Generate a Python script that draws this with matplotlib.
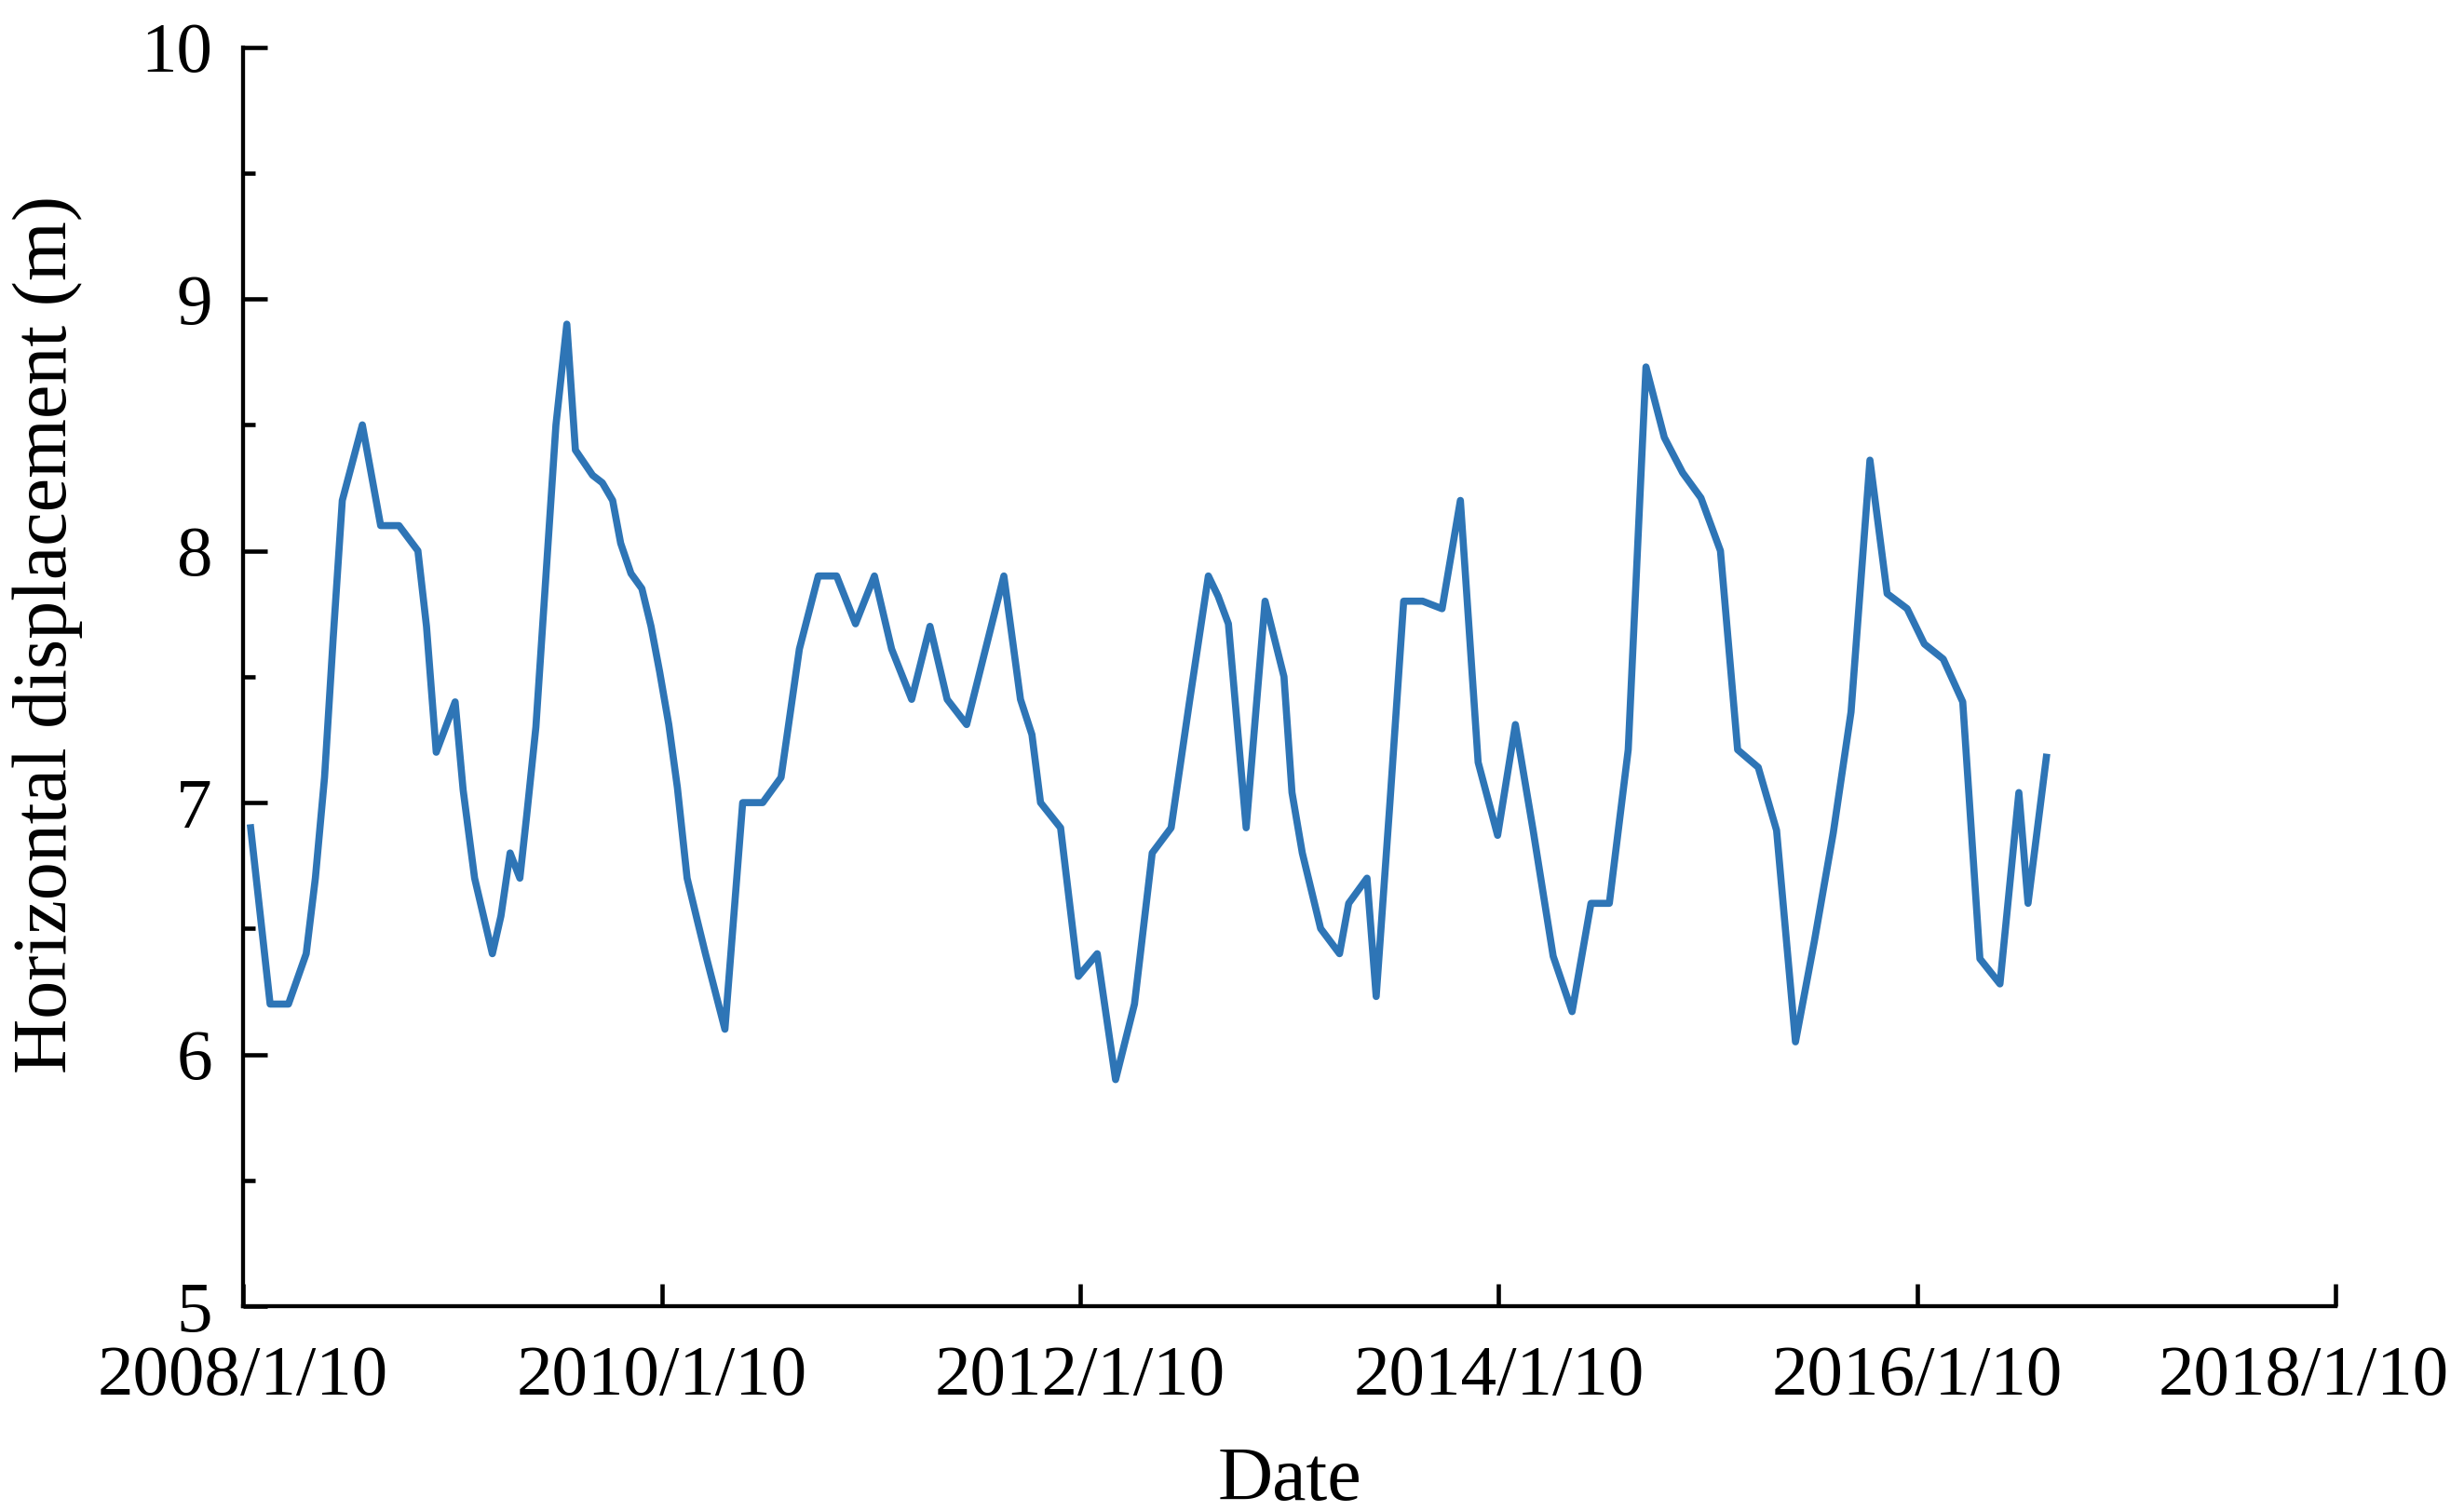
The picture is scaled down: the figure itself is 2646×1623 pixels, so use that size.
import numpy as np
import pandas as pd
import matplotlib
matplotlib.use("Agg")
import matplotlib.pyplot as plt
import matplotlib.transforms as mtransforms
from matplotlib.ticker import MultipleLocator

plt.rcParams['font.family'] = ['Liberation Serif', 'DejaVu Serif']

fechas = ["2008-01-23", "2008-02-26", "2008-03-29", "2008-04-29", "2008-05-15", "2008-05-31",
          "2008-06-15", "2008-07-01", "2008-08-05", "2008-09-06", "2008-10-08", "2008-11-10",
          "2008-11-25", "2008-12-12", "2009-01-14", "2009-01-28", "2009-02-17", "2009-03-20",
          "2009-04-04", "2009-04-20", "2009-05-07", "2009-05-19", "2009-06-04", "2009-07-09",
          "2009-07-28", "2009-08-12", "2009-09-11", "2009-09-28", "2009-10-16", "2009-10-30",
          "2009-11-17", "2009-12-06", "2009-12-22", "2010-01-06", "2010-01-22", "2010-02-06",
          "2010-02-23", "2010-03-13", "2010-03-27", "2010-04-30", "2010-05-31", "2010-07-05",
          "2010-08-06", "2010-09-07", "2010-10-10", "2010-11-11", "2010-12-14", "2011-01-16",
          "2011-02-15", "2011-03-22", "2011-04-23", "2011-05-23", "2011-06-26", "2011-07-29",
          "2011-08-30", "2011-09-28", "2011-10-18", "2011-11-02", "2011-12-07", "2012-01-07",
          "2012-02-09", "2012-03-12", "2012-04-14", "2012-05-15", "2012-06-17", "2012-07-19",
          "2012-08-21", "2012-09-07", "2012-09-25", "2012-10-26", "2012-11-28", "2012-12-31",
          "2013-01-14", "2013-02-01", "2013-03-05", "2013-04-07", "2013-04-23", "2013-05-25",
          "2013-06-10", "2013-07-04", "2013-07-28", "2013-08-30", "2013-10-03", "2013-11-04",
          "2013-12-05", "2014-01-08", "2014-02-08", "2014-03-11", "2014-04-15", "2014-05-18",
          "2014-06-20", "2014-07-22", "2014-08-24", "2014-09-24", "2014-10-26", "2014-11-27",
          "2014-12-29", "2015-02-01", "2015-03-03", "2015-04-08", "2015-05-10", "2015-06-12",
          "2015-07-15", "2015-08-17", "2015-09-17", "2015-10-20", "2015-11-19", "2015-12-24",
          "2016-01-23", "2016-02-25", "2016-03-30", "2016-04-29", "2016-06-03", "2016-07-06",
          "2016-07-22", "2016-08-23"]

deslocamento = [6.90, 6.20, 6.20, 6.40, 6.70, 7.10,
                7.65, 8.20, 8.50, 8.10, 8.10, 8.00,
                7.70, 7.20, 7.40, 7.05, 6.70, 6.40,
                6.55, 6.80, 6.70, 6.95, 7.30, 8.50,
                8.90, 8.40, 8.30, 8.27, 8.20, 8.03,
                7.91, 7.85, 7.70, 7.52, 7.31, 7.06,
                6.70, 6.53, 6.40, 6.10, 7.00, 7.00,
                7.10, 7.61, 7.90, 7.90, 7.71, 7.90,
                7.61, 7.41, 7.70, 7.41, 7.31, 7.61,
                7.90, 7.41, 7.27, 7.00, 6.90, 6.31,
                6.40, 5.90, 6.20, 6.80, 6.90, 7.40,
                7.90, 7.82, 7.71, 6.90, 7.80, 7.50,
                7.04, 6.80, 6.50, 6.40, 6.60, 6.70,
                6.23, 7.00, 7.80, 7.80, 7.77, 8.20,
                7.16, 6.87, 7.31, 6.89, 6.39, 6.17,
                6.60, 6.60, 7.21, 8.73, 8.45, 8.31,
                8.21, 8.00, 7.21, 7.14, 6.89, 6.05,
                6.45, 6.88, 7.36, 8.36, 7.83, 7.77,
                7.63, 7.57, 7.40, 6.38, 6.28, 7.04,
                6.60, 7.18]

ticks_x = ["2008-01-10", "2010-01-10", "2012-01-10", "2014-01-10", "2016-01-10", "2018-01-10"]
rotulos_x = ["2008/1/10", "2010/1/10", "2012/1/10", "2014/1/10", "2016/1/10", "2018/1/10"]

tempo = pd.to_datetime(fechas)
tt = pd.to_datetime(ticks_x)

fig = plt.figure(figsize=(26.46, 16.23), dpi=100)
ax = fig.add_axes([0.0987, 0.1355, 0.9479 - 0.0987, 0.9688 - 0.1355])

ax.plot(tempo, deslocamento, color="#2E75B6", linewidth=5.5)

ax.set_xlim(tt[0], tt[-1])
ax.set_ylim(5, 10)
ax.set_xticks(tt)
ax.set_xticklabels(rotulos_x)
ax.yaxis.set_major_locator(MultipleLocator(1))
ax.yaxis.set_minor_locator(MultipleLocator(0.5))

ax.spines['top'].set_visible(False)
ax.spines['right'].set_visible(False)
ax.spines['left'].set_linewidth(3.1)
ax.spines['bottom'].set_linewidth(3.1)

ax.tick_params(axis='x', which='major', direction='in', length=17, width=3.3,
               labelsize=55.5, pad=30)
ax.tick_params(axis='y', which='major', direction='in', length=18.5, width=3.3,
               labelsize=55.5, pad=24)
ax.tick_params(axis='y', which='minor', direction='in', length=9.5, width=3.3)
ax.tick_params(axis='x', which='minor', bottom=False)

# o último rótulo fica deslocado para dentro da figura
ultimo = ax.get_xticklabels()[-1]
ultimo.set_transform(ultimo.get_transform() +
                     mtransforms.ScaledTranslation(-25 / 72, 0, fig.dpi_scale_trans))

ax.set_xlabel("Date", fontsize=59)
ax.set_ylabel("Horizontal displacement (m)", fontsize=59)
ax.xaxis.set_label_coords(0.5, -0.111)
ax.yaxis.set_label_coords(-0.0765, 0.5335)

fig.savefig("out.png", dpi=100)
